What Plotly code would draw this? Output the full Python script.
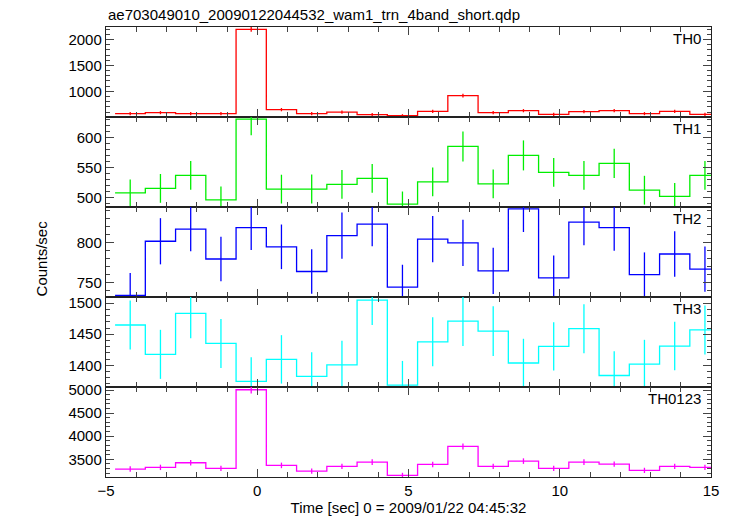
import numpy as np
import plotly.graph_objects as go
from plotly.subplots import make_subplots

# ---- data ----
bin_centers = [-4.2, -3.2, -2.2, -1.2, -0.2, 0.8, 1.8, 2.8, 3.8, 4.8,
               5.8, 6.8, 7.8, 8.8, 9.8, 10.8, 11.8, 12.8, 13.8, 14.8]
bin_half_width = 0.5

th0 = [570, 589, 570, 570, 2193, 647, 570, 600, 550, 531,
       614, 917, 589, 627, 556, 608, 627, 570, 614, 556]
th0_err = [30, 30, 30, 30, 45, 32, 30, 31, 30, 29,
           31, 38, 30, 31, 30, 31, 31, 30, 31, 30]

th1 = [507.7, 515, 536.7, 496, 630.5, 513.8, 514, 521.7, 531.7, 488.8,
       526, 585, 522.7, 570, 541.7, 536.7, 556.7, 512, 501.7, 536.7]
th1_err = [22, 24, 24, 22, 27, 24, 24, 24, 24, 21,
           24, 25, 24, 25, 24, 24, 24.5, 24, 22.5, 24]

th2 = [734, 802, 817.3, 779.7, 819, 795, 764, 809, 823.6, 744.5,
       804.6, 800, 764.8, 842.6, 756, 826, 819, 760, 786, 767]
th2_err = [28, 29, 28, 28, 28, 28, 28, 29, 28, 28,
           29, 29, 29, 29, 28, 29, 29, 28, 28.5, 28.5]

th3 = [1464.9, 1417.6, 1483.6, 1435.2, 1374, 1409.5, 1382, 1400.5, 1505, 1368,
       1437.8, 1471, 1455, 1403.7, 1430.4, 1459, 1383.5, 1402, 1431, 1457]
th3_err = [39.5, 39.5, 40, 39.5, 39, 39, 39, 39, 40, 39,
           39.5, 40, 40, 39, 39, 39.5, 39, 39, 39, 39.5]

th0123 = [3290, 3326, 3426, 3305, 5006, 3369, 3246, 3347, 3440, 3153,
          3390, 3779, 3347, 3462, 3305, 3440, 3397, 3261, 3347, 3326]
th0123_err = [58, 58, 60, 58, 80, 60, 57, 58, 60, 56,
              59, 65, 58, 60, 58, 60, 59, 57, 58, 58]

panel_names = ["TH0", "TH1", "TH2", "TH3", "TH0123"]
panel_values = [th0, th1, th2, th3, th0123]
panel_errors = [th0_err, th1_err, th2_err, th3_err, th0123_err]
panel_colors = ["#ff0000", "#00ee00", "#0000ff", "#00ffff", "#ff00ff"]
y_ranges = [[505, 2240], [484, 634], [732, 845], [1365, 1510], [3118, 5065]]
y_dtick = [500, 50, 50, 50, 500]
y_minor = [100, 10, 10, 10, 100]
x_range = [-5, 15]
x_tick_labels = [-5, 0, 5, 10, 15]

title_text = "ae703049010_20090122044532_wam1_trn_4band_short.qdp"
x_label = "Time [sec] 0 = 2009/01/22 04:45:32"
y_label = "Counts/sec"

FONT = "Liberation Sans, Arial, Helvetica, sans-serif"

fig = make_subplots(rows=5, cols=1, shared_xaxes=True, vertical_spacing=0)

c = np.array(bin_centers)
for i, (name, vals, errs, col) in enumerate(zip(panel_names, panel_values, panel_errors, panel_colors)):
    v = np.array(vals, dtype=float)
    xs = np.column_stack([c - bin_half_width, c + bin_half_width]).ravel()
    ys = np.column_stack([v, v]).ravel()
    fig.add_trace(go.Scatter(x=xs, y=ys, mode="lines",
                             line=dict(color=col, width=1.3),
                             hoverinfo="skip", showlegend=False),
                  row=i + 1, col=1)
    fig.add_trace(go.Scatter(x=c, y=v, mode="markers",
                             marker=dict(size=0.1, color=col, opacity=0),
                             error_y=dict(type="data", array=errs, color=col,
                                          thickness=1.3, width=0),
                             showlegend=False, name=name),
                  row=i + 1, col=1)
    fig.update_yaxes(range=y_ranges[i], dtick=y_dtick[i], tick0=0,
                     ticks="inside", ticklen=8, tickwidth=1, tickcolor="#444",
                     minor=dict(dtick=y_minor[i], tick0=0, ticks="inside",
                                ticklen=4, tickcolor="#444", tickwidth=1),
                     showline=True, linecolor="#222", linewidth=1.2,
                     mirror="allticks", showgrid=False, zeroline=False,
                     tickfont=dict(family=FONT, size=15, color="black"),
                     row=i + 1, col=1)
    fig.update_xaxes(range=x_range, tickvals=x_tick_labels,
                     ticks="inside", ticklen=8, tickwidth=1, tickcolor="#444",
                     minor=dict(dtick=1, tick0=0, ticks="inside", ticklen=5,
                                tickcolor="#444", tickwidth=1),
                     showline=True, linecolor="#222", linewidth=1.2,
                     mirror="allticks", showgrid=False, zeroline=False,
                     showticklabels=(i == 4),
                     tickfont=dict(family=FONT, size=15, color="black"),
                     row=i + 1, col=1)
    xref = "x domain" if i == 0 else f"x{i+1} domain"
    yref = "y domain" if i == 0 else f"y{i+1} domain"
    fig.add_annotation(text=name, xref=xref, yref=yref, x=0.986, y=0.985,
                       xanchor="right", yanchor="top", showarrow=False,
                       font=dict(family=FONT, size=15, color="black"))

fig.update_xaxes(title=dict(text=x_label, standoff=3,
                            font=dict(family=FONT, size=15, color="black")),
                 row=5, col=1)

fig.add_annotation(text=title_text, xref="paper", yref="paper", x=0.0, y=1.0,
                   xanchor="left", yanchor="bottom", yshift=2, showarrow=False,
                   font=dict(family=FONT, size=15, color="black"))
fig.add_annotation(text=y_label, xref="paper", yref="paper", x=-0.106, y=0.4855,
                   xanchor="center", yanchor="middle", textangle=-90, showarrow=False,
                   font=dict(family=FONT, size=15, color="black"))

fig.update_layout(width=733, height=516,
                  margin=dict(l=106, r=22, t=27, b=39, autoexpand=False),
                  paper_bgcolor="white", plot_bgcolor="white",
                  showlegend=False, hovermode=False)

# remove the browser's default 8px page margin so the figure sits at the window origin
fig.write_html("out.html",
               config={"displayModeBar": False, "staticPlot": True},
               post_script="document.body.style.margin='0';document.body.style.overflow='hidden';")
